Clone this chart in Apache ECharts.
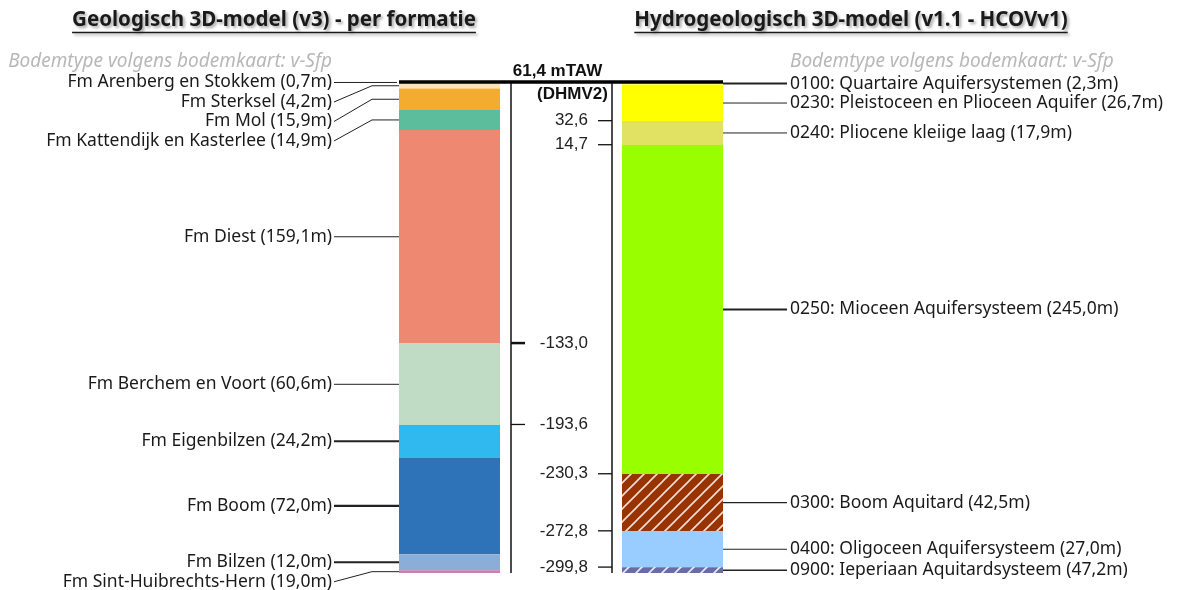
<!DOCTYPE html>
<html>
<head>
<meta charset="utf-8">
<script src="https://cdn.jsdelivr.net/npm/echarts@6/dist/echarts.min.js"></script>
<style>
html,body{margin:0;padding:0;background:#fff;}
#chart{width:1180px;height:590px;}
</style>
</head>
<body>
<div id="chart"></div>
<script>
// ---------- DATA ----------
const surfaceLevel = 61.4;            // mTAW (DHMV2)
const surfaceLabel = '61,4 mTAW';
const surfaceSource = '(DHMV2)';
const axisMin = -304.2;               // lowest depth shown in the drawing

const titleGeo = 'Geologisch 3D-model (v3) - per formatie';
const titleHydro = 'Hydrogeologisch 3D-model (v1.1 - HCOVv1)';
const soilNote = 'Bodemtype volgens bodemkaart: v-Sfp';

const geoNames = ['Fm Arenberg en Stokkem', 'Fm Sterksel', 'Fm Mol', 'Fm Kattendijk en Kasterlee',
  'Fm Diest', 'Fm Berchem en Voort', 'Fm Eigenbilzen', 'Fm Boom', 'Fm Bilzen', 'Fm Sint-Huibrechts-Hern'];
const geoThickness = [0.7, 4.2, 15.9, 14.9, 159.1, 60.6, 24.2, 72.0, 12.0, 19.0];

const hydroNames = ['0100: Quartaire Aquifersystemen', '0230: Pleistoceen en Plioceen Aquifer',
  '0240: Pliocene kleiige laag', '0250: Mioceen Aquifersysteem', '0300: Boom Aquitard',
  '0400: Oligoceen Aquifersysteem', '0900: Ieperiaan Aquitardsysteem'];
const hydroThickness = [2.3, 26.7, 17.9, 245.0, 42.5, 27.0, 47.2];

const geoTicks = [-133.0, -193.6];
const hydroTicks = [32.6, 14.7, -230.3, -272.8, -299.8];

// ---------- STYLE ----------
const geoColors = ['#fdf0cf', '#fbe2b8', '#f3ac2f', '#5bbd9c', '#ef8870', '#c1dcc4', '#30b9ee', '#2e73b8', '#8badd6', '#c97fb0'];
const hydroColors = ['#ffff66', '#ffff00', '#e1e163', '#99ff00', '#993300', '#99ccff', '#6b6ba5'];
const hydroHatch = [false, false, false, false, true, false, true];
const geoLineW = [1, 1, 1, 1, 1, 1, 2.2, 2.2, 2.2, 1];
const hydroLineW = [2, 1, 1, 2, 1.2, 1.2, 1.5];
const labelFont = '"Noto Sans", sans-serif';
const numFont = '"Liberation Sans", Arial, sans-serif';
const labelSize = 17.5;
const colW = 101;
const labelGap = 19.5;

function fmt(v) { return v.toFixed(1).replace('.', ','); }

function hatchPattern(bg) {
  const s = 13;
  const c = document.createElement('canvas');
  c.width = s; c.height = s;
  const g = c.getContext('2d');
  g.fillStyle = bg; g.fillRect(0, 0, s, s);
  g.strokeStyle = 'rgba(255,255,255,0.85)';
  g.lineWidth = 1.6;
  g.beginPath();
  g.moveTo(-1, s + 1); g.lineTo(s + 1, -1);
  g.moveTo(-s / 2 - 1, s / 2 + 1); g.lineTo(s / 2 + 1, -s / 2 - 1);
  g.moveTo(s / 2 - 1, s * 1.5 + 1); g.lineTo(s * 1.5 + 1, s / 2 - 1);
  g.stroke();
  return { image: c, repeat: 'repeat' };
}

function buildLayers(xIndex, thick) {
  const out = []; let top = surfaceLevel;
  thick.forEach((t, i) => { out.push([xIndex, top, top - t, i]); top -= t; });
  return out;
}

function labelPositions(api, xIndex, thick) {
  const res = []; let top = surfaceLevel; let prev = -1e9;
  thick.forEach(t => {
    const b = Math.max(top - t, axisMin);
    const mid = api.coord([xIndex, (top + b) / 2])[1];
    const y = Math.max(mid, prev + labelGap);
    res.push({ mid, y }); prev = y; top -= t;
  });
  return res;
}

function layerSeries(xIndex, thick, colors, hatch) {
  return {
    type: 'custom', silent: true,
    data: buildLayers(xIndex, thick),
    encode: { x: 0, y: [1, 2] },
    renderItem(params, api) {
      const x = api.value(0), t = api.value(1), b = Math.max(api.value(2), axisMin);
      const i = api.value(3);
      const p1 = api.coord([x, t]), p2 = api.coord([x, b]);
      const fill = hatch && hatch[i] ? hatchPattern(colors[i]) : colors[i];
      return { type: 'rect', shape: { x: p1[0] - colW / 2, y: p1[1], width: colW, height: p2[1] - p1[1] },
        style: { fill: fill } };
    }
  };
}

function labelSeries(xIndex, thick, names, lineW, side) {
  return {
    type: 'custom', silent: true,
    data: buildLayers(xIndex, thick),
    encode: { x: 0, y: [1, 2] },
    renderItem(params, api) {
      const i = api.value(3);
      const pos = labelPositions(api, xIndex, thick)[i];
      const cx = api.coord([xIndex, surfaceLevel])[0];
      const text = names[i] + ' (' + fmt(thick[i]) + 'm)';
      let pts, tx, align;
      if (side === 'left') {
        const edge = cx - colW / 2;
        pts = [[edge - 65, pos.y], [edge - 27, pos.mid], [i === 0 ? edge - 2 : edge, pos.mid]];
        tx = edge - 67; align = 'right';
      } else {
        const edge = cx + colW / 2;
        pts = [[edge, pos.mid], [edge + 64, pos.y]];
        tx = edge + 67; align = 'left';
      }
      return { type: 'group', children: [
        { type: 'polyline', shape: { points: pts }, style: { stroke: '#222', lineWidth: lineW[i], fill: null } },
        { type: 'text', x: tx, y: pos.y, style: { text: text, align: align, verticalAlign: 'middle',
          font: labelSize + 'px ' + labelFont, fill: '#1a1a1a' } }
      ] };
    }
  };
}

// scale / surface series
const scaleSeries = {
  type: 'custom', silent: true,
  data: [[0, surfaceLevel]],
  encode: { x: 0, y: 1 },
  renderItem(params, api) {
    const pTop0 = api.coord([0, surfaceLevel]);
    const pTop1 = api.coord([1, surfaceLevel]);
    const pBot = api.coord([0, axisMin]);
    const leftEdge = pTop0[0] - colW / 2, rightEdge = pTop1[0] + colW / 2;
    const lx = pTop0[0] + colW / 2 + 11;       // left scale line
    const rx = pTop1[0] - colW / 2 - 10;       // right scale line
    const ch = [];
    ch.push({ type: 'line', shape: { x1: lx, y1: pTop0[1] + 1, x2: lx, y2: pBot[1] }, style: { stroke: '#111', lineWidth: 1.5 } });
    ch.push({ type: 'line', shape: { x1: rx, y1: pTop0[1] + 1, x2: rx, y2: pBot[1] }, style: { stroke: '#111', lineWidth: 1.5 } });
    geoTicks.forEach((v, k) => {
      const y = api.coord([0, v])[1];
      ch.push({ type: 'line', shape: { x1: lx, y1: y, x2: lx + 14, y2: y }, style: { stroke: '#111', lineWidth: k === 0 ? 2.5 : 1.3 } });
      ch.push({ type: 'text', x: rx - 24, y: y, style: { text: fmt(v), align: 'right', verticalAlign: 'middle', font: '17px ' + numFont, fill: '#222' } });
    });
    hydroTicks.forEach(v => {
      const y = api.coord([1, v])[1];
      ch.push({ type: 'line', shape: { x1: rx - 14, y1: y, x2: rx, y2: y }, style: { stroke: '#111', lineWidth: 1.3 } });
      ch.push({ type: 'text', x: rx - 24, y: y, style: { text: fmt(v), align: 'right', verticalAlign: 'middle', font: '17px ' + numFont, fill: '#222' } });
    });
    ch.push({ type: 'line', shape: { x1: leftEdge, y1: pTop0[1], x2: rightEdge, y2: pTop0[1] }, style: { stroke: '#000', lineWidth: 3.5 } });
    ch.push({ type: 'text', x: (lx + rx) / 2 - 4, y: pTop0[1] - 11, style: { text: surfaceLabel, align: 'center', verticalAlign: 'middle', font: 'bold 17px ' + numFont, fill: '#111' } });
    ch.push({ type: 'text', x: (lx + rx) / 2 + 11, y: pTop0[1] + 12, style: { text: surfaceSource, align: 'center', verticalAlign: 'middle', font: 'bold 17px ' + numFont, fill: '#111' } });
    ch.push({ type: 'text', x: leftEdge - 67, y: pTop0[1] - 20, style: { text: soilNote, align: 'right', verticalAlign: 'middle', font: 'italic 19px ' + labelFont, fill: '#b8b8b8' } });
    ch.push({ type: 'text', x: rightEdge + 67, y: pTop0[1] - 20, style: { text: soilNote, align: 'left', verticalAlign: 'middle', font: 'italic 19px ' + labelFont, fill: '#b8b8b8' } });
    return { type: 'group', children: ch };
  }
};

// titles with underline
const titleFont = 'bold 20.5px ' + labelFont;
function textWidth(t, font) {
  const g = document.createElement('canvas').getContext('2d'); g.font = font; return g.measureText(t).width;
}
function titleGraphic(text, cx) {
  const w = textWidth(text, titleFont);
  return [
    { type: 'text', x: cx, y: 20, style: { text: text, align: 'center', verticalAlign: 'middle', font: titleFont, fill: '#1a1a1a',
      textShadowColor: 'rgba(0,0,0,0.35)', textShadowBlur: 3, textShadowOffsetX: 2, textShadowOffsetY: 2 } },
    { type: 'line', shape: { x1: cx - w / 2, y1: 32.5, x2: cx + w / 2, y2: 32.5 }, style: { stroke: '#1a1a1a', lineWidth: 1.5,
      shadowColor: 'rgba(0,0,0,0.35)', shadowBlur: 3, shadowOffsetX: 2, shadowOffsetY: 2 } }
  ];
}

const chart = echarts.init(document.getElementById('chart'), null, { renderer: 'canvas' });
chart.setOption({
  animation: false,
  backgroundColor: '#fff',
  grid: { left: 338, width: 446, top: 82, height: 491 },
  xAxis: { type: 'category', data: ['geo', 'hydro'], show: false },
  yAxis: { type: 'value', min: axisMin, max: surfaceLevel, show: false },
  graphic: [].concat(titleGraphic(titleGeo, 274), titleGraphic(titleHydro, 851)),
  series: [
    layerSeries(0, geoThickness, geoColors, null),
    layerSeries(1, hydroThickness, hydroColors, hydroHatch),
    labelSeries(0, geoThickness, geoNames, geoLineW, 'left'),
    labelSeries(1, hydroThickness, hydroNames, hydroLineW, 'right'),
    scaleSeries
  ]
});
</script>
</body>
</html>
